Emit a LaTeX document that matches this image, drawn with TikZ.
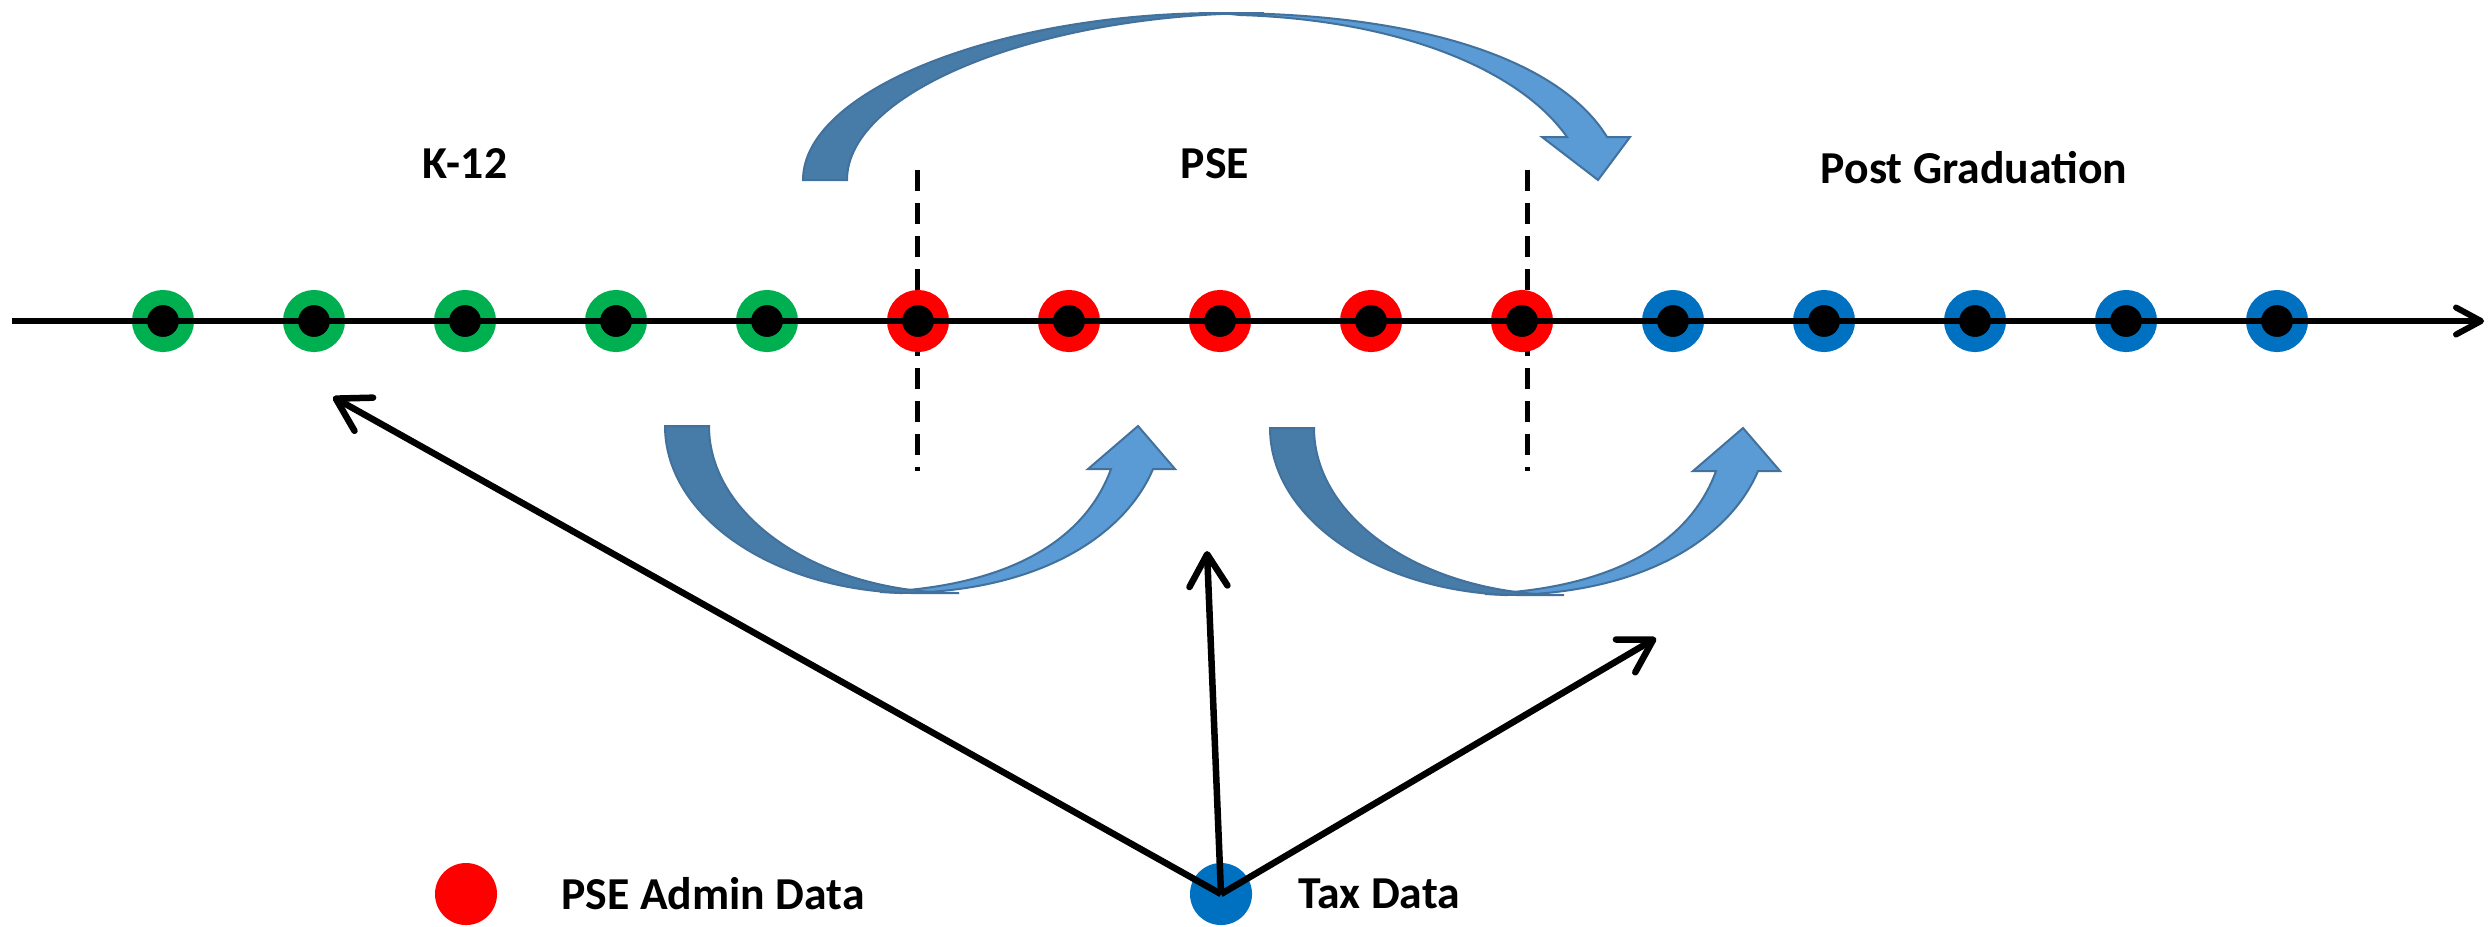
\documentclass[tikz,border=0pt]{standalone}
\usepackage{fontspec}
\setmainfont{Carlito}
\usetikzlibrary{arrows.meta,positioning}

\definecolor{kgreen}{HTML}{00B050}
\definecolor{pred}{HTML}{FF0000}
\definecolor{gblue}{HTML}{0070C0}
\definecolor{arrowdark}{HTML}{477BA8}
\definecolor{arrowlight}{HTML}{5B9BD5}
\definecolor{arrowedge}{HTML}{41719C}

\tikzset{
  stage/.style={
    circle,
    fill=black,
    line width=0.15cm,
    minimum size=0.47cm,
    inner sep=0pt, outer sep=0pt},
  kdot/.style={stage, draw=kgreen},
  pdot/.style={stage, draw=pred},
  gdot/.style={stage, draw=gblue},
  legdot/.style={circle, minimum size=0.62cm, inner sep=0pt},
  phase/.style={font=\fontsize{13}{15}\selectfont\bfseries, anchor=base},
  legtext/.style={font=\fontsize{13}{15}\selectfont\bfseries, inner sep=0pt},
  border/.style={draw, line width=0.05cm, dash pattern=on 0.21cm off 0.12cm},
  timeline/.style={draw, line width=0.06cm,
    -{Straight Barb[length=0.25cm,width=0.27cm,round]}},
  link/.style={draw, line width=0.065cm,
    -{Straight Barb[length=0.32cm,width=0.38cm,round]}},
  back/.style={fill=arrowdark, draw=arrowedge, line width=0.02cm},
  front/.style={fill=arrowlight, draw=arrowedge, line width=0.02cm},
}

\begin{document}
\begin{tikzpicture}[x=0.01cm, y=-0.01cm]
  \useasboundingbox (0,0) rectangle (2489,926);

  % big arrow over PSE
  \path[front] (1220,13) .. controls (1420,13) and (1560,60) .. (1607,137) -- (1630,137) -- (1598,180)
    -- (1542,137) -- (1567,137) .. controls (1520,70) and (1400,20) .. (1240,15) -- cycle;
  \path[back] (803,180) .. controls (803,90) and (1000,13) .. (1220,13) -- (1264,13)
    .. controls (1044,13) and (847,90) .. (847,180) -- cycle;

  % small arrows under the line
  \begin{scope}
    \path[front] (900,593) .. controls (1040,592) and (1125,535) .. (1153,469) -- (1175,469) -- (1138,426)
      -- (1088,469) -- (1111,469) .. controls (1085,540) and (1010,586) .. (880,592) -- cycle;
    \path[back] (665,426) .. controls (665,518) and (777,593) .. (915,593) -- (959,593)
      .. controls (821,593) and (709,518) .. (709,426) -- cycle;
  \end{scope}
  \begin{scope}[shift={(605,2)}]
    \path[front] (900,593) .. controls (1040,592) and (1125,535) .. (1153,469) -- (1175,469) -- (1138,426)
      -- (1088,469) -- (1111,469) .. controls (1085,540) and (1010,586) .. (880,592) -- cycle;
    \path[back] (665,426) .. controls (665,518) and (777,593) .. (915,593) -- (959,593)
      .. controls (821,593) and (709,518) .. (709,426) -- cycle;
  \end{scope}

  \draw[border] (917,170) -- (917,471);
  \draw[border] (1527,170) -- (1527,471);

  \node[phase] (k12) at (465,178) {K-12};
  \node[phase] (pse) at (1215,178) {PSE};
  \node[phase] (post) at (1974,183) {Post Graduation};

  \node[kdot] (k1) at (163,321) {}; \node[kdot] (k2) at (314,321) {}; \node[kdot] (k3) at (465,321) {};
  \node[kdot] (k4) at (616,321) {}; \node[kdot] (k5) at (767,321) {};
  \node[pdot] (p1) at (918,321) {}; \node[pdot] (p2) at (1069,321) {}; \node[pdot] (p3) at (1220,321) {};
  \node[pdot] (p4) at (1371,321) {}; \node[pdot] (p5) at (1522,321) {};
  \node[gdot] (g1) at (1673,321) {}; \node[gdot] (g2) at (1824,321) {}; \node[gdot] (g3) at (1975,321) {};
  \node[gdot] (g4) at (2126,321) {}; \node[gdot] (g5) at (2277,321) {};

  \coordinate (start) at (12,321);
  \coordinate (end) at (2484,321);
  \draw[timeline] (start) -- (end);

  % legend
  \node[legdot, fill=pred] (pleg) at (466,894) {};
  \node[legtext, right=0.63cm of pleg] (plegtext) {PSE Admin Data};
  \node[legdot, fill=gblue] (tax) at (1221,894) {};
  \node[legtext, right=0.45cm of tax] (taxtext) {Tax Data};

  \coordinate (kEnd) at (333,397);
  \coordinate (pEnd) at (1207,551);
  \coordinate (gEnd) at (1656,638);
  \draw[link] (tax.center) -- (kEnd);
  \draw[link] (tax.center) -- (pEnd);
  \draw[link] (tax.center) -- (gEnd);
\end{tikzpicture}
\end{document}
